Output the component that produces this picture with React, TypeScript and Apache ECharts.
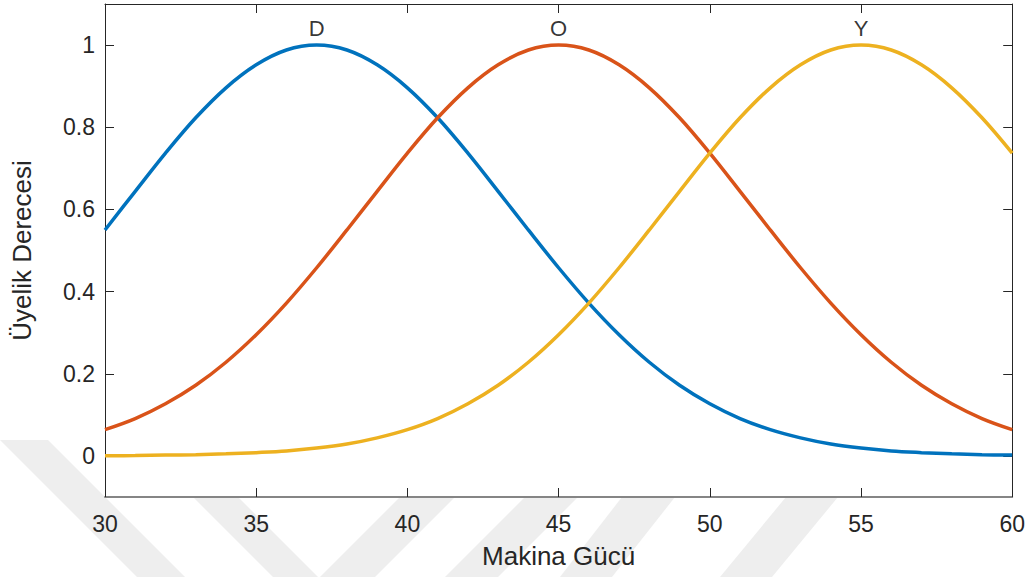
import React, { useEffect, useRef } from "react";
import * as echarts from "echarts";

// X values (Makina Gücü)
const xValues = [30,31,32,33,34,35,36,37,38,39,40,41,42,43,44,45,46,47,48,49,50,51,52,53,54,55,56,57,58,59,60];
// Membership degrees
const dValues = [0.550,0.644,0.737,0.823,0.896,0.952,0.988,1.000,0.988,0.952,0.896,0.823,0.737,0.644,0.550,0.458,0.372,0.295,0.228,0.172,0.127,0.091,0.064,0.044,0.029,0.019,0.012,0.008,0.005,0.003,0.002];
const oValues = [0.064,0.091,0.127,0.172,0.228,0.295,0.372,0.458,0.550,0.644,0.737,0.823,0.896,0.952,0.988,1.000,0.988,0.952,0.896,0.823,0.737,0.644,0.550,0.458,0.372,0.295,0.228,0.172,0.127,0.091,0.064];
const yValues = [0.0005,0.0009,0.002,0.003,0.005,0.008,0.012,0.019,0.029,0.044,0.064,0.091,0.127,0.172,0.228,0.295,0.372,0.458,0.550,0.644,0.737,0.823,0.896,0.952,0.988,1.000,0.988,0.952,0.896,0.823,0.737];

const seriesNames = ["D", "O", "Y"];
const seriesColors = ["#0072BD", "#D95319", "#EDB120"];
const peakX = [37, 45, 55];
const peakY = [1, 1, 1];

const xTicks = [30, 35, 40, 45, 50, 55, 60];
const yTicks = [0, 0.2, 0.4, 0.6, 0.8, 1];

const xName = "Makina Gücü";
const yName = "Üyelik Derecesi";

const FONT = "'Liberation Sans', Arial, Helvetica, sans-serif";
const AXIS_COLOR = "#262626";

export default function App() {
  const ref = useRef<HTMLDivElement>(null);
  useEffect(() => {
    if (!ref.current) return;
    const chart = echarts.init(ref.current, undefined, { renderer: "svg" });
    const all = [dValues, oValues, yValues];

    const wmColor = "#eeeeee";
    const bands: number[][][] = [
      [[0, 440], [48, 440], [185, 577], [137, 577]],
      [[193, 497], [238, 497], [318, 577], [273, 577]],
      [[320, 577], [375, 577], [455, 497], [400, 497]],
      [[445, 577], [498, 577], [578, 497], [525, 497]],
      [[560, 577], [612, 577], [675, 497], [622, 497]],
      [[720, 577], [772, 577], [838, 497], [786, 497]],
    ];

    const L = 105, R = 15, T = 4, B = 80;

    chart.setOption({
      animation: false,
      backgroundColor: "#ffffff",
      textStyle: { fontFamily: FONT },
      graphic: [
        ...bands.map((pts) => ({
          type: "polygon",
          z: -100,
          silent: true,
          shape: { points: pts },
          style: { fill: wmColor },
        })),
        {
          type: "rect",
          z: -50,
          silent: true,
          shape: { x: L, y: T, width: 1028 - L - R, height: 577 - T - B },
          style: { fill: "#ffffff" },
        },
      ],
      grid: { left: L, right: R, top: T, bottom: B, show: false },
      xAxis: [
        {
          type: "value",
          min: 30,
          max: 60,
          interval: 5,
          position: "bottom",
          name: xName,
          nameLocation: "middle",
          nameGap: 46,
          nameTextStyle: { fontSize: 26, color: AXIS_COLOR, fontFamily: FONT },
          axisLine: { show: true, onZero: false, lineStyle: { color: "#858585", width: 2 } },
          axisTick: { show: true, inside: true, length: 9, lineStyle: { color: AXIS_COLOR, width: 1 } },
          axisLabel: { show: true, margin: 15, fontSize: 23, color: AXIS_COLOR, fontFamily: FONT, customValues: xTicks },
          splitLine: { show: false },
        },
        {
          type: "value",
          min: 30,
          max: 60,
          interval: 5,
          position: "top",
          axisLine: { show: true, onZero: false, lineStyle: { color: AXIS_COLOR, width: 1 } },
          axisTick: { show: true, inside: true, length: 9, lineStyle: { color: AXIS_COLOR, width: 1 } },
          axisLabel: { show: false },
          splitLine: { show: false },
        },
      ],
      yAxis: [
        {
          type: "value",
          min: -0.1,
          max: 1.1,
          position: "left",
          name: yName,
          nameLocation: "middle",
          nameGap: 70,
          nameRotate: 90,
          nameTextStyle: { fontSize: 26, color: AXIS_COLOR, fontFamily: FONT },
          axisLine: { show: true, onZero: false, lineStyle: { color: AXIS_COLOR, width: 1 } },
          axisTick: { show: true, inside: true, length: 9, customValues: yTicks, lineStyle: { color: AXIS_COLOR, width: 1 } },
          axisLabel: { show: true, margin: 10, fontSize: 23, color: AXIS_COLOR, fontFamily: FONT, customValues: yTicks },
          splitLine: { show: false },
        },
        {
          type: "value",
          min: -0.1,
          max: 1.1,
          position: "right",
          axisLine: { show: true, onZero: false, lineStyle: { color: AXIS_COLOR, width: 1 } },
          axisTick: { show: true, inside: true, length: 9, customValues: yTicks, lineStyle: { color: AXIS_COLOR, width: 1 } },
          axisLabel: { show: false, customValues: yTicks },
          splitLine: { show: false },
        },
      ],
      series: [
        ...all.map((vals, i) => ({
          name: seriesNames[i],
          type: "line",
          xAxisIndex: 0,
          yAxisIndex: 0,
          smooth: 0.35,
          showSymbol: false,
          symbol: "none",
          clip: true,
          lineStyle: { color: seriesColors[i], width: 3.5 },
          data: xValues.map((x, j) => [x, vals[j]]),
        })),
        {
          name: "labels",
          type: "scatter",
          xAxisIndex: 0,
          yAxisIndex: 0,
          symbolSize: 0,
          silent: true,
          data: seriesNames.map((n, i) => ({ name: n, value: [peakX[i], peakY[i]] })),
          label: {
            show: true,
            position: "top",
            distance: 6,
            formatter: (p: any) => p.name,
            fontSize: 22,
            color: "#000000",
            fontFamily: FONT,
          },
        },
      ],
    });
    return () => chart.dispose();
  }, []);
  return (
    <div
      ref={ref}
      style={{ position: "fixed", left: 0, top: 0, width: 1028, height: 577, background: "#fff" }}
    />
  );
}
